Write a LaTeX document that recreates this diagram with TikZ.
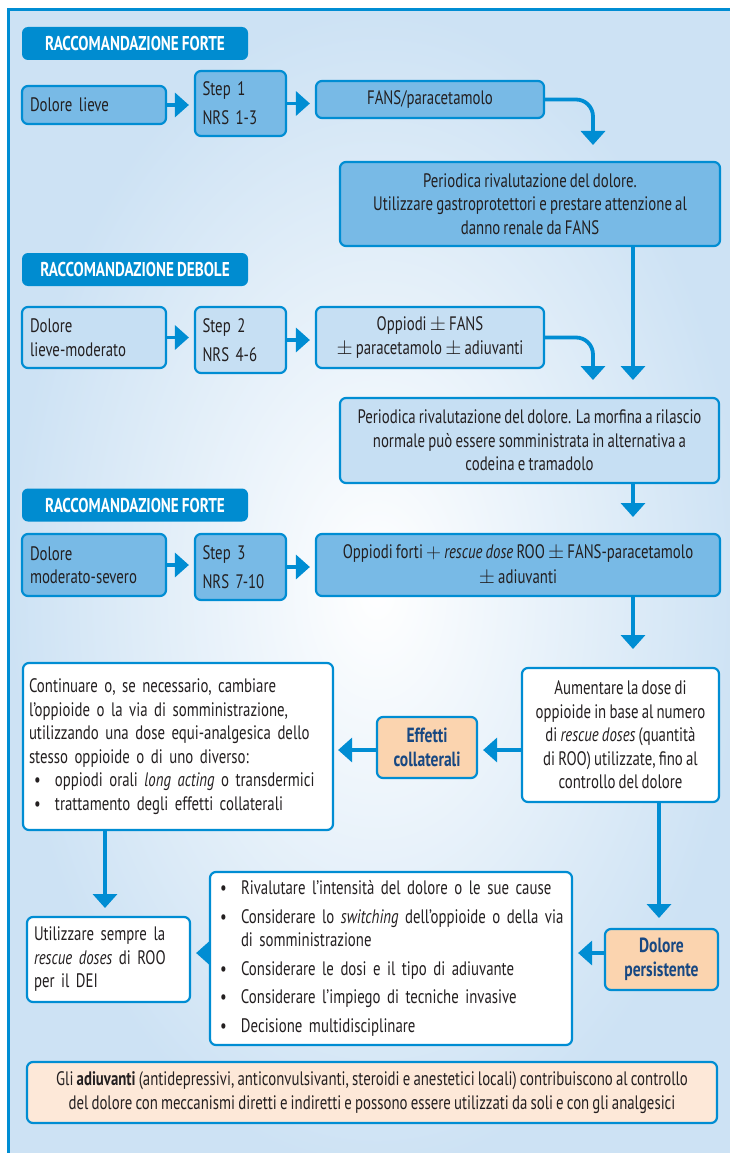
\documentclass[tikz,border=0pt]{standalone}
\usepackage{fontspec}
\setmainfont{PT Sans}[FakeStretch=0.76, WordSpace=0.8]
\usetikzlibrary{arrows.meta,calc}

\definecolor{lineblue}{RGB}{0,141,211}
\definecolor{headblue}{RGB}{0,140,208}
\definecolor{midblue}{RGB}{120,186,230}
\definecolor{paleblue}{RGB}{198,223,243}
\definecolor{peach}{RGB}{251,212,175}
\definecolor{palepeach}{RGB}{253,232,216}
\definecolor{ink}{RGB}{35,31,32}
\definecolor{navy}{RGB}{24,72,130}
\definecolor{bgblue}{RGB}{205,226,244}

\tikzset{
  box/.style={draw=lineblue, line width=2.2pt, rounded corners=6pt, text=ink,
    inner sep=0pt, font=\fontsize{19.5}{23.5}\selectfont},
  head/.style={fill=headblue, rounded corners=6pt, text=white, inner sep=0pt,
    minimum width=226pt, minimum height=33pt,
    font=\bfseries\fontsize{20}{22}\selectfont},
  stepbox/.style={box, fill=midblue, minimum width=91pt, text width=76pt,
    align=left, font=\fontsize{19.5}{29}\selectfont},
  conn/.style={draw=lineblue, line width=3.8pt,
    -{Triangle[width=24pt,length=14pt]}},
  alert/.style={box, fill=peach, text=navy, align=center,
    font=\bfseries\fontsize{20.5}{24}\selectfont},
}

\newcommand{\blt}{\makebox[26pt][l]{\hspace{5pt}•}}

\begin{document}
\begin{tikzpicture}[x=1pt,y=-1pt]
\useasboundingbox (0,0) rectangle (729,1153);

% outer panel with soft blue background
\draw[line width=2.5pt, draw=lineblue, inner color=white, outer color=bgblue]
  (8.5,9.5) rectangle (745,1170);

% ---- step 1 ----
\node[head] (h1) at (135,43.5) {RACCOMANDAZIONE FORTE};
\node[box, fill=midblue, minimum width=144pt, minimum height=38pt,
  text width=128pt, align=left] (b1) at (94,105) {Dolore lieve};
\node[stepbox, minimum height=65pt] (s1) at (240.5,103.5) {Step 1\\NRS 1-3};
\node[box, fill=midblue, minimum width=228pt, minimum height=37pt,
  align=center] (f1) at (430,99.5) {FANS/paracetamolo};
\node[box, fill=midblue, minimum width=380pt, minimum height=84pt,
  align=center] (p1) at (530,204)
  {Periodica rivalutazione del dolore.\\
   Utilizzare gastroprotettori e prestare attenzione al\\
   danno renale da FANS};

% ---- step 2 ----
\node[head] (h2) at (135,269.5) {RACCOMANDAZIONE DEBOLE};
\node[box, fill=paleblue, minimum width=144pt, minimum height=61pt,
  text width=128pt, align=left] (b2) at (94,337.5) {Dolore\\lieve-moderato};
\node[stepbox, fill=paleblue, minimum height=66pt] (s2) at (240.5,340) {Step 2\\NRS 4-6};
\node[box, fill=paleblue, minimum width=228pt, minimum height=61pt,
  align=center] (f2) at (430,337.5)
  {Oppiodi $\pm$ FANS\\$\pm$ paracetamolo $\pm$ adiuvanti};
\node[box, fill=paleblue, minimum width=379pt, minimum height=85pt,
  align=center] (p2) at (529.5,440.5)
  {Periodica rivalutazione del dolore. La morfina a rilascio\\
   normale può essere somministrata in alternativa a\\
   codeina e tramadolo};

% ---- step 3 ----
\node[head] (h3) at (135,505) {RACCOMANDAZIONE FORTE};
\node[box, fill=midblue, minimum width=144pt, minimum height=62pt,
  text width=128pt, align=left] (b3) at (94,565) {Dolore\\moderato-severo};
\node[stepbox, minimum height=66pt] (s3) at (240.5,567) {Step 3\\NRS 7-10};
\node[box, fill=midblue, minimum width=404pt, minimum height=62pt,
  align=center, font=\fontsize{19.5}{24.5}\selectfont] (f3) at (518,565)
  {Oppiodi forti $+$ \textit{rescue dose} ROO $\pm$ FANS-paracetamolo\\$\pm$ adiuvanti};

% ---- follow-up ----
\node[box, fill=white, minimum width=310pt, minimum height=167pt,
  text width=298pt, align=left] (c4) at (178,746.5)
  {Continuare o, se necessario, cambiare\\
   l’oppioide o la via di somministrazione,\\
   utilizzando una dose equi-analgesica dello\\
   stesso oppioide o di uno diverso:\\
   \blt oppiodi orali \textit{long acting} o transdermici\\
   \blt trattamento degli effetti collaterali};
\node[alert, minimum width=100pt, minimum height=61pt] (e4) at (427,747.5)
  {Effetti\\collaterali};
\node[box, fill=white, minimum width=197pt, minimum height=134pt,
  align=center] (a4) at (620.5,735)
  {Aumentare la dose di\\
   oppioide in base al numero\\
   di \textit{rescue doses} (quantità\\
   di ROO) utilizzate, fino al\\
   controllo del dolore};

\node[box, fill=white, minimum width=163pt, minimum height=85pt,
  text width=149pt, align=left] (u5) at (108.5,959.5)
  {Utilizzare sempre la\\\textit{rescue doses} di ROO\\per il DEI};
\node[box, fill=white, minimum width=362pt, minimum height=173pt,
  text width=352pt, align=left] (r5) at (391,958.5)
  {\blt Rivalutare l’intensità del dolore o le sue cause\\[5pt]
   \blt Considerare lo \textit{switching} dell’oppioide o della via\\
   \hspace*{26pt}di somministrazione\\[5pt]
   \blt Considerare le dosi e il tipo di adiuvante\\[5pt]
   \blt Considerare l’impiego di tecniche invasive\\[5pt]
   \blt Decisione multidisciplinare};
\node[alert, minimum width=113pt, minimum height=61pt] (d5) at (661.5,959.5)
  {Dolore\\persistente};

\node[box, fill=palepeach, minimum width=690pt, minimum height=61pt,
  align=center] (n6) at (372,1092.5)
  {Gli \textbf{adiuvanti} (antidepressivi, anticonvulsivanti, steroidi e anestetici locali) contribuiscono al controllo\\
   del dolore con meccanismi diretti e indiretti e possono essere utilizzati da soli e con gli analgesici};

% ---- arrow end points ----
\coordinate (t1) at (593,145);
\coordinate (t2) at (633,380);
\coordinate (t3) at (593,380);
\coordinate (t4) at (633,517);
\coordinate (t5) at (633,649);
\coordinate (t6) at (659,918);
\coordinate (t7) at (105,908);
\coordinate (m4) at (0,750);
\coordinate (m5) at (0,953);

% ---- connectors ----
\draw[conn, shorten >=5pt] (b1.east) -- (b1.east -| s1.west);
\draw[conn, shorten >=5pt] (s1.east) -- (s1.east -| f1.west);
\draw[conn, rounded corners=17pt] (f1.east) -| (t1);
\draw[conn] (p1.south -| t2) -- (t2);

\draw[conn, shorten >=5pt] (b2.east) -- (b2.east -| s2.west);
\draw[conn, shorten >=5pt] (s2.east) -- (s2.east -| f2.west);
\draw[conn, rounded corners=17pt] (f2.east) -| (t3);
\draw[conn] (p2.south -| t4) -- (t4);

\draw[conn, shorten >=5pt] (b3.east) -- (b3.east -| s3.west);
\draw[conn, shorten >=5pt] (s3.east) -- (s3.east -| f3.west);
\draw[conn] (f3.south -| t5) -- (t5);

\draw[conn, shorten >=5pt] (a4.west |- m4) -- (e4.east |- m4);
\draw[conn, shorten >=4pt] (e4.west |- m4) -- (c4.east |- m4);
\draw[conn] (a4.south -| t6) -- (t6);
\draw[conn] (c4.south -| t7) -- (t7);

\draw[conn, shorten >=5pt] (r5.west |- m5) -- (u5.east |- m5);
\draw[conn, shorten >=5pt] (d5.west |- m5) -- (r5.east |- m5);
\end{tikzpicture}
\end{document}
